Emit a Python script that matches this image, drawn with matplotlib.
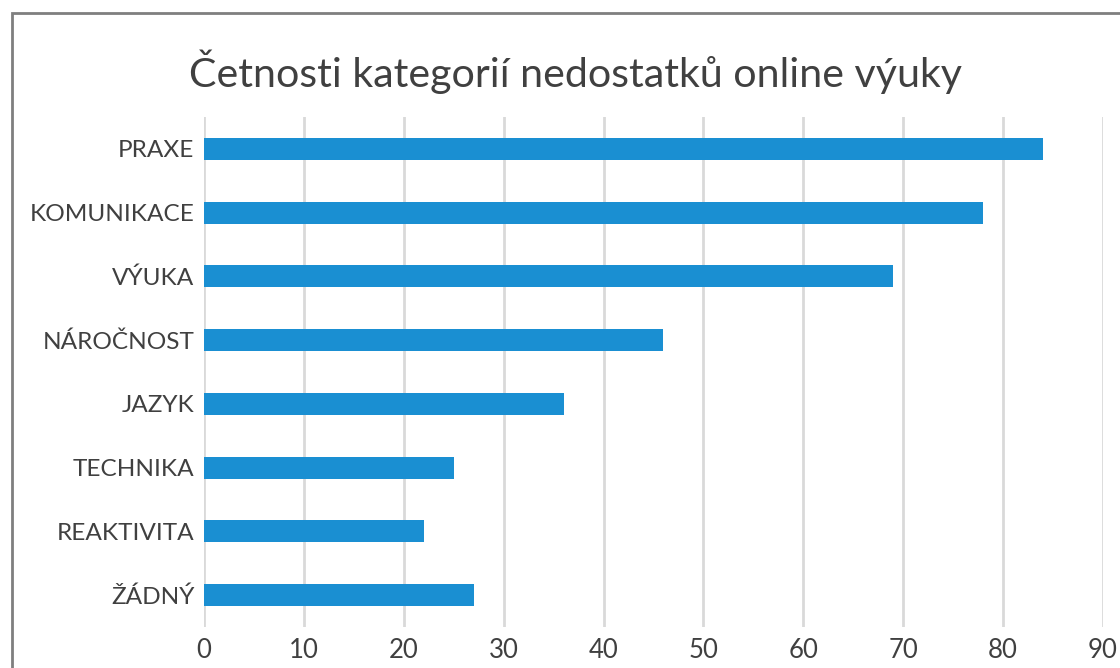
import matplotlib.pyplot as plt
from matplotlib.patches import Rectangle

# Data
categories = ['PRAXE', 'KOMUNIKACE', 'VÝUKA', 'NÁROČNOST', 'JAZYK',
              'TECHNIKA', 'REAKTIVITA', 'ŽÁDNÝ']
counts = [84, 78, 69, 46, 36, 25, 22, 27]
x_ticks = [0, 10, 20, 30, 40, 50, 60, 70, 80, 90]

plt.rcParams['font.family'] = ['Lato', 'DejaVu Sans']

fig = plt.figure(figsize=(11.2, 6.68), dpi=100)
ax = fig.add_axes([0.1821, 0.0614, 0.8027, 0.7635])

pos = list(range(len(categories)))
ax.barh(pos, counts, height=0.345, color='#1a8fd2', zorder=3)

ax.set_ylim(len(categories) - 0.5, -0.5)
ax.set_xlim(0, 90)
ax.set_xticks(x_ticks)
ax.set_yticks(pos)
ax.set_yticklabels(categories)

ax.grid(axis='x', color='#d9d9d9', linewidth=2, zorder=0)
for s in ax.spines.values():
    s.set_visible(False)
ax.tick_params(axis='y', length=0, pad=7, labelsize=17.6, labelcolor='#404040')
ax.tick_params(axis='x', length=0, pad=8, labelsize=18.5, labelcolor='#404040')

fig.text(0.514, 0.893, 'Četnosti kategorií nedostatků online výuky',
         ha='center', va='center', fontsize=29.6, color='#404040')

# rámeček grafu
fig.patches.append(Rectangle((12 / 1120, -0.1), 1.2, 0.1 + 1 - 13 / 668,
                             transform=fig.transFigure, fill=False,
                             edgecolor='#7f7f7f', linewidth=2))

fig.savefig('out.png', dpi=100)
